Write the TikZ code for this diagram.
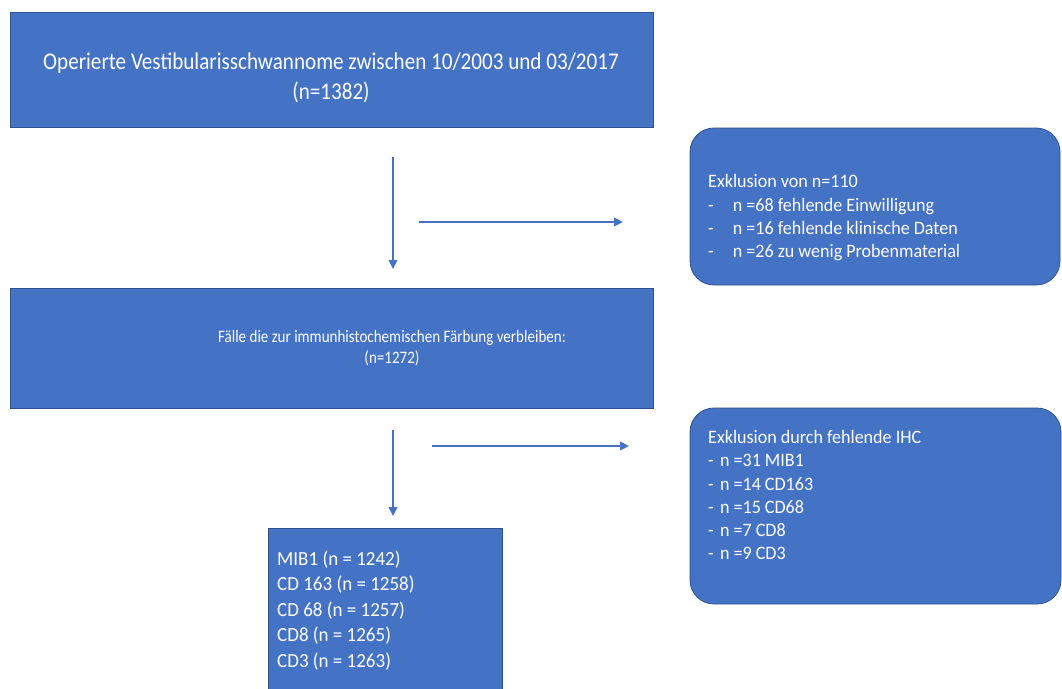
\documentclass[tikz,border=0pt]{standalone}
\usepackage{fontspec}
\usepackage{graphicx}
\setmainfont{Carlito}
\usetikzlibrary{arrows.meta}
\definecolor{obox}{HTML}{4472C4}
\definecolor{oedge}{HTML}{2F528F}
\newcommand\hsq[2]{\scalebox{#1}[1]{#2}}
\newcommand\lcol[1]{\begin{tabular}{@{}l@{}}#1\end{tabular}}
\newcommand\ccol[1]{\begin{tabular}{@{}c@{}}#1\end{tabular}}
\begin{document}
\begin{tikzpicture}[x=1pt,y=-1pt,
  boxstyle/.style={draw=oedge, line width=0.8pt, fill=obox},
  roundbox/.style={boxstyle, rounded corners=24pt},
  txt/.style={text=white, inner sep=0pt},
  arr/.style={draw=obox, line width=2.3pt, -{Triangle[length=9pt,width=8.5pt]}}
]
\useasboundingbox (0,0) rectangle (1062,688);
\clip (0,0) rectangle (1062,688);
\fill[white] (0,0) rectangle (1062,688);

% boxes
\path[boxstyle] (10,12) rectangle (653,127);
\node[inner sep=0pt, minimum width=643pt, minimum height=115pt] (b1) at (331.5,69.5) {};
\node[txt] (t1) at (331,78)
  {\fontsize{24}{30}\selectfont\hsq{0.88}{\ccol{Operierte Vestibularisschwannome zwischen 10/2003 und 03/2017\\(n=1382)}}};

\path[boxstyle] (10,288) rectangle (653,408);
\node[inner sep=0pt, minimum width=643pt, minimum height=120pt] (b2) at (331.5,348) {};
\node[txt] (t2) at (392,349)
  {\fontsize{17.5}{21}\selectfont\hsq{0.86}{\ccol{Fälle die zur immunhistochemischen Färbung verbleiben:\\(n=1272)}}};

\path[roundbox] (690,128) rectangle (1060,285);
\node[txt, anchor=west] (e1) at (708,218)
  {\fontsize{19}{23.3}\selectfont\hsq{0.95}{\lcol{Exklusion von n=110\\
   \makebox[26pt][l]{-}n =68 fehlende Einwilligung\\
   \makebox[26pt][l]{-}n =16 fehlende klinische Daten\\
   \makebox[26pt][l]{-}n =26 zu wenig Probenmaterial}}};

\path[roundbox] (690,408) rectangle (1061,604);
\node[txt, anchor=west] (e2) at (708,497)
  {\fontsize{19}{23.2}\selectfont\hsq{0.95}{\lcol{Exklusion durch fehlende IHC\\
   \makebox[12.5pt][l]{-}n =31 MIB1\\
   \makebox[12.5pt][l]{-}n =14 CD163\\
   \makebox[12.5pt][l]{-}n =15 CD68\\
   \makebox[12.5pt][l]{-}n =7 CD8\\
   \makebox[12.5pt][l]{-}n =9 CD3}}};

\path[boxstyle] (268,528) rectangle (502,700);
\node[txt, anchor=west] (t3) at (277,611)
  {\fontsize{20}{25.5}\selectfont\hsq{0.95}{\lcol{MIB1 (n = 1242)\\CD 163 (n = 1258)\\CD 68 (n = 1257)\\CD8 (n = 1265)\\CD3 (n = 1263)}}};

% connectors
\coordinate (d1s) at (393,157);
\coordinate (d1e) at (393,269);
\coordinate (r1s) at (419,222);
\coordinate (r1e) at (623,222);
\coordinate (d2s) at (393,430);
\coordinate (d2e) at (393,516);
\coordinate (r2s) at (432,446);
\coordinate (r2e) at (629,446);
\draw[arr] (d1s) -- (d1e);
\draw[arr] (r1s) -- (r1e);
\draw[arr] (d2s) -- (d2e);
\draw[arr] (r2s) -- (r2e);
\end{tikzpicture}
\end{document}
